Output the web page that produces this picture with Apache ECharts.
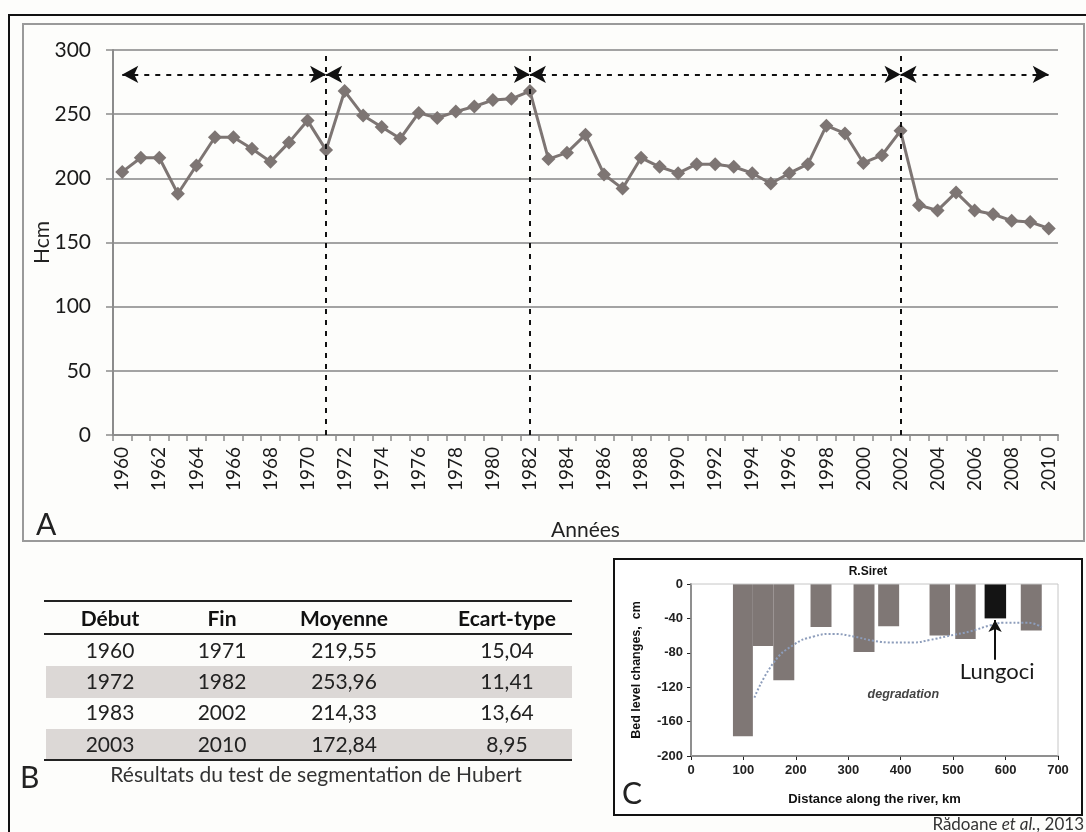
<!DOCTYPE html>
<html>
<head>
<meta charset="utf-8">
<title>Hcm 1960-2010</title>
<script src="https://cdn.jsdelivr.net/npm/echarts@6/dist/echarts.min.js"></script>
<style>
  html, body { margin: 0; background: #fdfdfb; }
  #chart { width: 1086px; height: 832px; }
</style>
</head>
<body>
<div id="chart"></div>
<script>
/* A - hauteur Hcm par année */
const years = ['1960', '1961', '1962', '1963', '1964', '1965', '1966', '1967', '1968', '1969',
  '1970', '1971', '1972', '1973', '1974', '1975', '1976', '1977', '1978', '1979',
  '1980', '1981', '1982', '1983', '1984', '1985', '1986', '1987', '1988', '1989',
  '1990', '1991', '1992', '1993', '1994', '1995', '1996', '1997', '1998', '1999',
  '2000', '2001', '2002', '2003', '2004', '2005', '2006', '2007', '2008', '2009', '2010'];
const hcm = [205, 216, 216, 188, 210, 232, 232, 223, 213, 228,
  245, 222, 268, 249, 240, 231, 251, 247, 252, 256,
  261, 262, 268, 215, 220, 234, 203, 192, 216, 209,
  204, 211, 211, 209, 204, 196, 204, 211, 241, 235,
  212, 218, 237, 179, 175, 189, 175, 172, 167, 166, 161];
const breakYears = ['1971', '1982', '2002'];
const segmentBounds = ['1960', '1971', '1982', '2002', '2010'];
const arrowLevel = 281;

/* B - test de segmentation de Hubert */
const tableHead = ['Début', 'Fin', 'Moyenne', 'Ecart-type'];
const segStart = ['1960', '1972', '1983', '2003'];
const segEnd = ['1971', '1982', '2002', '2010'];
const segMean = ['219,55', '253,96', '214,33', '172,84'];
const segStd = ['15,04', '11,41', '13,64', '8,95'];

/* C - R. Siret, bed level changes */
const barStart = [80, 118, 157, 228, 310, 357, 455, 504, 560, 629];
const barEnd = [118, 157, 197, 268, 350, 397, 494, 543, 601, 669];
const barValue = [-177, -72, -112, -50, -79, -49, -60, -64, -40, -54];
const lungociIndex = 8;
const trendKm = [121, 157, 195, 234, 272, 310, 348, 386, 424, 456, 494, 533, 571, 596, 641, 669];
const trendVal = [-132, -92, -71, -61, -58, -61, -66, -68, -68, -65, -60, -55, -48, -45, -45, -50];
const lungociKm = 580, lungociFrom = -88, lungociTo = -42;

const calibri = 'Lato, "Open Sans", sans-serif';
const arial = '"Liberation Sans", Arial, sans-serif';
const gridGray = '#a3a3a3';

const chart = echarts.init(document.getElementById('chart'));

/* tableau B et cadres en graphic */
const colX = [110, 222, 344, 507];
const rowY = [651, 682, 713, 745];
const graphic = [
  {type: 'rect', shape: {x: 9, y: 15, width: 1100, height: 900}, style: {fill: 'none', stroke: '#111', lineWidth: 2}},
  {type: 'rect', shape: {x: 23, y: 24, width: 1061, height: 517}, style: {fill: 'none', stroke: '#9a9a9a', lineWidth: 2}},
  {type: 'rect', shape: {x: 614, y: 559, width: 468, height: 256}, style: {fill: '#fff', stroke: '#111', lineWidth: 2}},
  {type: 'text', x: 36, y: 525, style: {text: 'A', font: '30px ' + calibri, fill: '#222', textVerticalAlign: 'middle'}},
  {type: 'text', x: 20, y: 778, style: {text: 'B', font: '30px ' + calibri, fill: '#222', textVerticalAlign: 'middle'}},
  {type: 'text', x: 622, y: 794, style: {text: 'C', font: '30px ' + calibri, fill: '#222', textVerticalAlign: 'middle'}},
  {type: 'text', x: 868, y: 572, style: {text: 'R.Siret', font: 'bold 12px ' + arial, fill: '#111', textAlign: 'center', textVerticalAlign: 'middle'}},
  {type: 'text', x: 316, y: 775, style: {text: 'Résultats du test de segmentation de Hubert', font: '21px ' + calibri, fill: '#333', textAlign: 'center', textVerticalAlign: 'middle'}},
  {type: 'text', x: 1084, y: 825, style: {
    text: '{n|Rădoane }{i|et al.}{n|, 2013}', textAlign: 'right', textVerticalAlign: 'middle',
    rich: {n: {font: '17px ' + calibri, fill: '#333'}, i: {font: 'italic 17px ' + calibri, fill: '#333'}}
  }}
];
// bandes grises lignes 2 et 4
[1, 3].forEach(function (r) {
  graphic.push({type: 'rect', shape: {x: 46, y: rowY[r] - 16, width: 526, height: 32}, style: {fill: '#dcd8d6'}});
});
// filets
[[601, 2], [634, 2], [760, 2]].forEach(function (l) {
  graphic.push({type: 'line', shape: {x1: 44, y1: l[0], x2: 572, y2: l[0]}, style: {stroke: '#222', lineWidth: l[1]}});
});
tableHead.forEach(function (h, c) {
  graphic.push({type: 'text', x: colX[c], y: 619, style: {text: h, font: 'bold 21px ' + calibri, fill: '#111', textAlign: 'center', textVerticalAlign: 'middle'}});
});
[segStart, segEnd, segMean, segStd].forEach(function (col, c) {
  col.forEach(function (v, r) {
    graphic.push({type: 'text', x: colX[c], y: rowY[r], style: {text: v, font: '21px ' + calibri, fill: '#222', textAlign: 'center', textVerticalAlign: 'middle'}});
  });
});

/* lignes de rupture + flèches */
const markLines = breakYears.map(function (y) {
  return [{coord: [y, 0], symbol: 'none'}, {coord: [y, 300], symbol: 'none'}];
});
for (let i = 0; i < segmentBounds.length - 1; i++) {
  markLines.push([{coord: [segmentBounds[i], arrowLevel]}, {coord: [segmentBounds[i + 1], arrowLevel]}]);
}

const option = {
  backgroundColor: '#fdfdfb',
  animation: false,
  graphic: graphic,
  grid: [
    {left: 113, right: 28, top: 50, bottom: 397},
    {left: 691, right: 28, top: 584, bottom: 76, show: true, borderColor: '#c6c6c6', borderWidth: 1, backgroundColor: 'transparent', z: 3}
  ],
  xAxis: [
    {
      gridIndex: 0, type: 'category', data: years, boundaryGap: true,
      axisLine: {lineStyle: {color: '#8c8c8c', width: 2}},
      axisTick: {show: true, interval: 0, length: 6, lineStyle: {color: '#8c8c8c', width: 1.5}},
      axisLabel: {interval: 1, rotate: 90, fontSize: 19, fontFamily: calibri, color: '#1a1a1a', margin: 12},
      name: 'Années', nameLocation: 'middle', nameGap: 85, nameMoveOverlap: false,
      nameTextStyle: {fontSize: 21, fontFamily: calibri, color: '#222'}
    },
    {
      gridIndex: 1, type: 'value', min: 0, max: 700, interval: 100,
      axisLine: {onZero: false, lineStyle: {color: '#222', width: 1.5}},
      axisTick: {length: 4, lineStyle: {color: '#222'}},
      axisLabel: {fontSize: 13, fontWeight: 'bold', fontFamily: arial, color: '#222', margin: 8},
      splitLine: {show: false},
      name: 'Distance along the river, km', nameLocation: 'middle', nameGap: 37, nameMoveOverlap: false,
      nameTextStyle: {fontSize: 13, fontWeight: 'bold', fontFamily: arial, color: '#111'}
    }
  ],
  yAxis: [
    {
      gridIndex: 0, type: 'value', min: 0, max: 300, interval: 50,
      axisLine: {show: true, lineStyle: {color: '#8c8c8c', width: 2}},
      axisTick: {show: true, length: 7, lineStyle: {color: '#8c8c8c', width: 1.5}},
      axisLabel: {fontSize: 21, fontFamily: calibri, color: '#1a1a1a', margin: 22},
      splitLine: {lineStyle: {color: gridGray, width: 2}},
      name: 'Hcm', nameLocation: 'middle', nameGap: 60, nameMoveOverlap: false,
      nameTextStyle: {fontSize: 21, fontFamily: calibri, color: '#222'}
    },
    {
      gridIndex: 1, type: 'value', min: -200, max: 0, interval: 40,
      axisLine: {show: true, onZero: false, lineStyle: {color: '#222', width: 1.5}},
      axisTick: {show: true, length: 4, lineStyle: {color: '#222'}},
      axisLabel: {fontSize: 13, fontWeight: 'bold', fontFamily: arial, color: '#222', margin: 8},
      splitLine: {show: false},
      name: 'Bed level changes,  cm', nameLocation: 'middle', nameGap: 48, nameMoveOverlap: false,
      nameTextStyle: {fontSize: 12.5, fontWeight: 'bold', fontFamily: arial, color: '#111'}
    }
  ],
  series: [
    {
      type: 'line', xAxisIndex: 0, yAxisIndex: 0, data: hcm,
      symbol: 'diamond', symbolSize: 14, showAllSymbol: true,
      lineStyle: {color: '#7d7573', width: 3},
      itemStyle: {color: '#7d7573'},
      markLine: {
        silent: true, symbol: ['arrow', 'arrow'], symbolSize: [13, 16],
        label: {show: false},
        lineStyle: {color: '#111', type: [5, 6], width: 2},
        data: markLines
      }
    },
    {
      type: 'custom', xAxisIndex: 1, yAxisIndex: 1,
      data: barStart.map(function (s, i) { return [s, barEnd[i], barValue[i]]; }),
      encode: {x: [0, 1], y: 2},
      renderItem: function (params, api) {
        const p0 = api.coord([api.value(0), 0]);
        const p1 = api.coord([api.value(1), api.value(2)]);
        return {
          type: 'rect',
          shape: {x: p0[0], y: p0[1], width: p1[0] - p0[0], height: p1[1] - p0[1]},
          style: {fill: params.dataIndex === lungociIndex ? '#141414' : '#7f7775'}
        };
      }
    },
    {
      type: 'line', xAxisIndex: 1, yAxisIndex: 1, smooth: true, symbol: 'none',
      data: trendKm.map(function (k, i) { return [k, trendVal[i]]; }),
      lineStyle: {color: '#8d9dbb', width: 2, type: 'dotted'},
      markLine: {
        silent: true, symbol: ['none', 'arrow'], symbolSize: [10, 12],
        label: {show: false},
        lineStyle: {color: '#111', type: 'solid', width: 2},
        data: [[{coord: [lungociKm, lungociFrom]}, {coord: [lungociKm, lungociTo]}]]
      },
      markPoint: {
        silent: true, symbolSize: 0,
        data: [
          {coord: [584, -102], label: {show: true, formatter: 'Lungoci', fontSize: 22, fontFamily: calibri, color: '#1a1a1a'}},
          {coord: [405, -128], label: {show: true, formatter: 'degradation', fontSize: 12.5, fontStyle: 'italic', fontWeight: 'bold', fontFamily: arial, color: '#444'}}
        ]
      }
    }
  ]
};

chart.setOption(option);
</script>
</body>
</html>
